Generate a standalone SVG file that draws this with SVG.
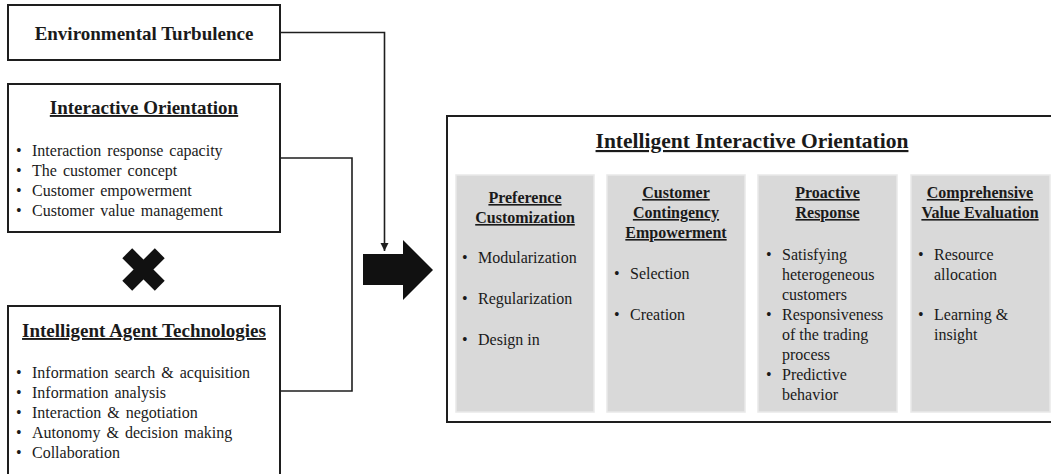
<svg xmlns="http://www.w3.org/2000/svg" width="1051" height="474" viewBox="0 0 1051 474">
  <defs>
    <style>
      .box { fill: #ffffff; stroke: #1e1e1e; stroke-width: 2; }
      .panel { fill: #d9d9d9; stroke: #e9e9e9; stroke-width: 1.5; }
      .wire { fill: none; stroke: #1e1e1e; stroke-width: 1.6; }
      text { font-family: "Liberation Serif", "Times New Roman", serif; fill: #1a1a1a; }
      .h1 { font-size: 19px; font-weight: bold; text-anchor: middle; }
      .h1u { font-size: 19px; font-weight: bold; text-anchor: middle; text-decoration: underline; }
      .hmain { font-size: 21.5px; font-weight: bold; text-anchor: middle; text-decoration: underline; }
      .hp { font-size: 16px; font-weight: bold; text-anchor: middle; text-decoration: underline; }
      .li { font-size: 16px; word-spacing: 2px; }
      .lp { font-size: 16px; }
    </style>
    <marker id="tip" markerWidth="10" markerHeight="10" refX="8" refY="4" orient="auto" markerUnits="userSpaceOnUse">
      <path d="M0,0 L8,4 L0,8 Z" fill="#1e1e1e"/>
    </marker>
  </defs>

  <rect width="1051" height="474" fill="#ffffff"/>

  <!-- connectors -->
  <g id="connectors">
    <path class="wire" d="M280,32.5 H384.5 V251" marker-end="url(#tip)"/>
    <path class="wire" d="M280,158 H352 V391 H280"/>
    <!-- block arrow into the combined construct -->
    <polygon points="363,254 403,254 403,240 433,270 403,300 403,285 363,285" fill="#111111"/>
  </g>

  <!-- Environmental Turbulence -->
  <g id="env-turbulence">
    <rect class="box" x="8" y="5" width="272" height="55"/>
    <text class="h1" x="144" y="40">Environmental Turbulence</text>
  </g>

  <!-- Interactive Orientation -->
  <g id="interactive-orientation">
    <rect class="box" x="8" y="84" width="272" height="148"/>
    <text class="h1u" x="144" y="114">Interactive Orientation</text>
    <g class="li">
      <text x="16" y="156">•</text><text x="32" y="156" class="li">Interaction response capacity</text>
      <text x="16" y="176">•</text><text x="32" y="176" class="li">The customer concept</text>
      <text x="16" y="196">•</text><text x="32" y="196" class="li">Customer empowerment</text>
      <text x="16" y="216">•</text><text x="32" y="216" class="li">Customer value management</text>
    </g>
  </g>

  <!-- multiplication sign -->
  <g id="times">
    <g transform="translate(143.5,269.5) rotate(45)" fill="#111111">
      <rect x="-23" y="-7" width="46" height="14"/>
      <rect x="-7" y="-23" width="14" height="46"/>
    </g>
  </g>

  <!-- Intelligent Agent Technologies -->
  <g id="agent-technologies">
    <rect class="box" x="8" y="306" width="272" height="180"/>
    <text class="h1u" x="144" y="337">Intelligent Agent Technologies</text>
    <text x="16" y="378" class="li">•</text><text x="32" y="378" class="li">Information search &amp; acquisition</text>
    <text x="16" y="398" class="li">•</text><text x="32" y="398" class="li">Information analysis</text>
    <text x="16" y="418" class="li">•</text><text x="32" y="418" class="li">Interaction &amp; negotiation</text>
    <text x="16" y="438" class="li">•</text><text x="32" y="438" class="li">Autonomy &amp; decision making</text>
    <text x="16" y="458" class="li">•</text><text x="32" y="458" class="li">Collaboration</text>
  </g>

  <!-- Intelligent Interactive Orientation -->
  <g id="intelligent-interactive-orientation">
    <rect class="box" x="447" y="116" width="620" height="306"/>
    <text class="hmain" x="752" y="148">Intelligent Interactive Orientation</text>
  </g>

  <g id="preference-customization">
    <rect class="panel" x="456" y="175" width="138" height="237"/>
    <text class="hp" x="525" y="203">Preference</text>
    <text class="hp" x="525" y="223">Customization</text>
    <text class="lp" x="462" y="263">•</text><text class="lp" x="478" y="263">Modularization</text>
    <text class="lp" x="462" y="304">•</text><text class="lp" x="478" y="304">Regularization</text>
    <text class="lp" x="462" y="345">•</text><text class="lp" x="478" y="345">Design in</text>
  </g>

  <g id="contingency-empowerment">
    <rect class="panel" x="607" y="175" width="138" height="237"/>
    <text class="hp" x="676" y="198">Customer</text>
    <text class="hp" x="676" y="218">Contingency</text>
    <text class="hp" x="676" y="238">Empowerment</text>
    <text class="lp" x="614" y="279">•</text><text class="lp" x="630" y="279">Selection</text>
    <text class="lp" x="614" y="320">•</text><text class="lp" x="630" y="320">Creation</text>
  </g>

  <g id="proactive-response">
    <rect class="panel" x="758" y="175" width="139" height="237"/>
    <text class="hp" x="827.5" y="198">Proactive</text>
    <text class="hp" x="827.5" y="218">Response</text>
    <text class="lp" x="766" y="260">•</text><text class="lp" x="782" y="260">Satisfying</text>
    <text class="lp" x="782" y="280">heterogeneous</text>
    <text class="lp" x="782" y="300">customers</text>
    <text class="lp" x="766" y="320">•</text><text class="lp" x="782" y="320">Responsiveness</text>
    <text class="lp" x="782" y="340">of the trading</text>
    <text class="lp" x="782" y="360">process</text>
    <text class="lp" x="766" y="380">•</text><text class="lp" x="782" y="380">Predictive</text>
    <text class="lp" x="782" y="400">behavior</text>
  </g>

  <g id="value-evaluation">
    <rect class="panel" x="911" y="175" width="139" height="237"/>
    <text class="hp" x="980" y="198">Comprehensive</text>
    <text class="hp" x="980" y="218">Value Evaluation</text>
    <text class="lp" x="918" y="260">•</text><text class="lp" x="934" y="260">Resource</text>
    <text class="lp" x="934" y="280">allocation</text>
    <text class="lp" x="918" y="320">•</text><text class="lp" x="934" y="320">Learning &amp;</text>
    <text class="lp" x="934" y="340">insight</text>
  </g>
</svg>
